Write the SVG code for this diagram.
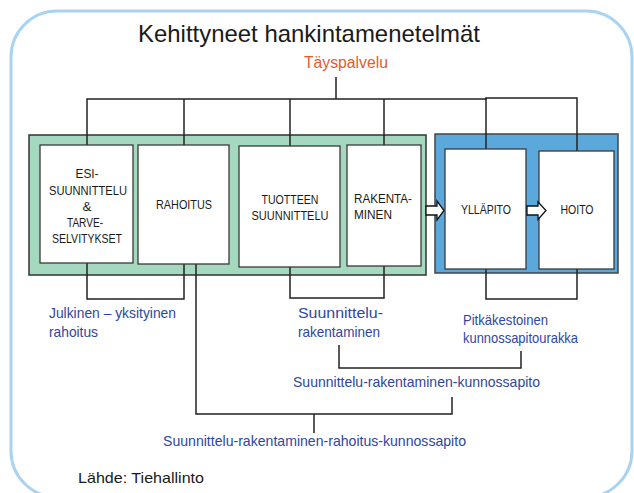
<svg xmlns="http://www.w3.org/2000/svg" width="634" height="493" viewBox="0 0 634 493">
<style>
.lbl{font-family:"Liberation Sans",Arial,sans-serif;font-size:13.5px;fill:#1a1a1a;text-anchor:middle}
.lblL{font-family:"Liberation Sans",Arial,sans-serif;font-size:13.5px;fill:#1a1a1a}
.blue{font-family:"Liberation Sans",Arial,sans-serif;font-size:15px;fill:#2f46a0}
.box{fill:#ffffff;stroke:#3a3a3a;stroke-width:1.3}
.con{fill:none;stroke:#222;stroke-width:1.5}
.arr{fill:#ffffff;stroke:#111;stroke-width:1.3;stroke-linejoin:miter}
</style>
<rect x="0" y="0" width="634" height="493" fill="#ffffff"/>
<rect x="11" y="11" width="621" height="486" rx="46" fill="none" stroke="#a9d3f0" stroke-width="3"/>
<text x="309" y="42" font-family="'Liberation Sans',Arial,sans-serif" font-size="24" fill="#1a1a1a" text-anchor="middle" textLength="342" lengthAdjust="spacingAndGlyphs">Kehittyneet hankintamenetelmät</text>
<text x="346" y="68" font-family="'Liberation Sans',Arial,sans-serif" font-size="16" fill="#e65a30" text-anchor="middle" textLength="84" lengthAdjust="spacingAndGlyphs">Täyspalvelu</text>

<g id="phase-design-build">
<rect x="29" y="135" width="397" height="140" fill="#a4d8bf" stroke="#333" stroke-width="1.5"/>
</g>
<g id="phase-maintenance">
<rect x="435" y="134" width="183" height="139" fill="#5aa8dc" stroke="#444" stroke-width="1.5"/>
</g>

<g id="connectors">
<path class="con" d="M336 77 V99" stroke="#666"/>
<path class="con" d="M87 145 V99 H486 V98 H577 V151" stroke="#555"/>
<path class="con" d="M184 99 V145"/>
<path class="con" d="M290 99 V146"/>
<path class="con" d="M384 99 V145"/>
<path class="con" d="M486 98 V149"/>
<path class="con" d="M87 263 V299 H184 V264"/>
<path class="con" d="M290 267 V298 H384 V266"/>
<path class="con" d="M486 269 V299 H577 V269"/>
<path class="con" d="M339 345 V368 H521 V351"/>
<path class="con" d="M196 264 V414 H452 V397"/>
<path class="con" d="M314 414 V433"/>
</g>

<g id="esi">
<rect class="box" x="40" y="145" width="93" height="118"/>
<text class="lbl" x="87" y="178" textLength="23" lengthAdjust="spacingAndGlyphs">ESI-</text>
<text class="lbl" x="88" y="195" textLength="78" lengthAdjust="spacingAndGlyphs">SUUNNITTELU</text>
<text class="lbl" x="87" y="211">&amp;</text>
<text class="lbl" x="85" y="227" textLength="36" lengthAdjust="spacingAndGlyphs">TARVE-</text>
<text class="lbl" x="87" y="243" textLength="70" lengthAdjust="spacingAndGlyphs">SELVITYKSET</text>
</g>
<g id="rahoitus">
<rect class="box" x="138" y="145" width="91" height="119"/>
<text class="lbl" x="184" y="209" textLength="56" lengthAdjust="spacingAndGlyphs">RAHOITUS</text>
</g>
<g id="tuotteen">
<rect class="box" x="239" y="146" width="101" height="121"/>
<text class="lbl" x="290" y="204" textLength="57" lengthAdjust="spacingAndGlyphs">TUOTTEEN</text>
<text class="lbl" x="290" y="220" textLength="77" lengthAdjust="spacingAndGlyphs">SUUNNITTELU</text>
</g>
<g id="rakentaminen">
<rect class="box" x="347" y="145" width="74" height="121"/>
<text class="lblL" x="354" y="203" textLength="58" lengthAdjust="spacingAndGlyphs">RAKENTA-</text>
<text class="lblL" x="354" y="219" textLength="38" lengthAdjust="spacingAndGlyphs">MINEN</text>
</g>
<g id="yllapito">
<rect class="box" x="445" y="149" width="81" height="120"/>
<text class="lbl" x="486" y="214" textLength="50" lengthAdjust="spacingAndGlyphs">YLLÄPITO</text>
</g>
<g id="hoito">
<rect class="box" x="539" y="151" width="75" height="118"/>
<text class="lbl" x="577" y="214" textLength="33" lengthAdjust="spacingAndGlyphs">HOITO</text>
</g>

<g id="arrows">
<path class="arr" d="M426 206 H437 V201 L444 210.5 L437 220 V215 H426 Z"/>
<path class="arr" d="M527 206 H538 V202 L546 210.5 L538 219.5 V215 H527 Z"/>
</g>

<g id="labels">
<text class="blue" x="49" y="318" textLength="127" lengthAdjust="spacingAndGlyphs">Julkinen – yksityinen</text>
<text class="blue" x="49" y="337" textLength="49" lengthAdjust="spacingAndGlyphs">rahoitus</text>
<text class="blue" x="298" y="318" textLength="85" lengthAdjust="spacingAndGlyphs">Suunnittelu-</text>
<text class="blue" x="298" y="337" textLength="82" lengthAdjust="spacingAndGlyphs">rakentaminen</text>
<text class="blue" x="463" y="325" textLength="85" lengthAdjust="spacingAndGlyphs">Pitkäkestoinen</text>
<text class="blue" x="463" y="343" textLength="115" lengthAdjust="spacingAndGlyphs">kunnossapitourakka</text>
<text class="blue" x="293" y="387" textLength="247" lengthAdjust="spacingAndGlyphs">Suunnittelu-rakentaminen-kunnossapito</text>
<text class="blue" x="163" y="446" textLength="303" lengthAdjust="spacingAndGlyphs">Suunnittelu-rakentaminen-rahoitus-kunnossapito</text>
<text x="78" y="483" font-family="'Liberation Sans',Arial,sans-serif" font-size="14.5" fill="#1a1a1a" textLength="126" lengthAdjust="spacingAndGlyphs">Lähde: Tiehallinto</text>
</g>
</svg>
